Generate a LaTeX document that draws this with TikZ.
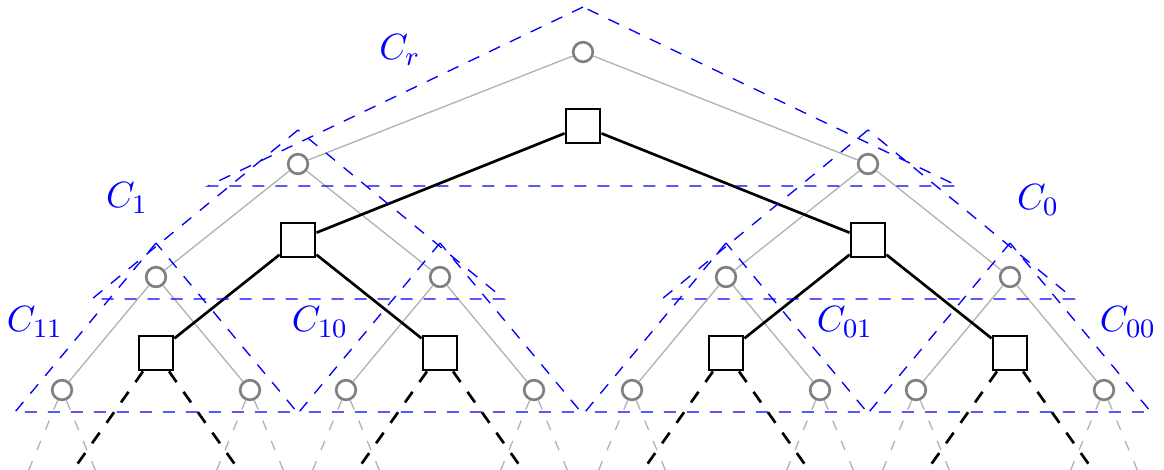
\documentclass[tikz,border=0pt]{standalone}
\begin{document}
\begin{tikzpicture}[x=0.3pt,y=-0.3pt,
  circ/.style={circle,draw=gray,line width=0.8pt,fill=white,minimum size=5.9pt,inner sep=0pt},
  sq/.style={rectangle,draw=black,line width=0.85pt,fill=white,minimum size=10.2pt,inner sep=0pt},
  gedge/.style={draw=black!30,line width=0.4pt},
  bedge/.style={draw=black,line width=0.8pt},
  gdash/.style={draw=black!30,line width=0.4pt,dash pattern=on 3pt off 3.6pt},
  bdash/.style={draw=black,line width=0.8pt,dash pattern=on 3.9pt off 3.6pt},
  clus/.style={draw=blue,line width=0.4pt,dash pattern=on 3.6pt off 3.3pt},
  lab/.style={text=blue,inner sep=0pt,font=\fontsize{11.2}{13}\selectfont}]
\useasboundingbox (0,0) rectangle (1164,469);
\clip (0,0) rectangle (1164,469);

% circle tree
\node[circ] (c) at (583,52) {};
\node[circ] (c1) at (298,164) {};
\node[circ] (c0) at (868,164) {};
\node[circ] (c11) at (156,277) {};
\node[circ] (c10) at (440,277) {};
\node[circ] (c01) at (726,277) {};
\node[circ] (c00) at (1010,277) {};
\node[circ] (c111) at (62,390) {};
\node[circ] (c110) at (250,390) {};
\node[circ] (c101) at (346,390) {};
\node[circ] (c100) at (534,390) {};
\node[circ] (c011) at (632,390) {};
\node[circ] (c010) at (820,390) {};
\node[circ] (c001) at (916,390) {};
\node[circ] (c000) at (1104,390) {};

% square tree
\node[sq] (s) at (583,126) {};
\node[sq] (s1) at (298,240) {};
\node[sq] (s0) at (868,240) {};
\node[sq] (s11) at (156,353) {};
\node[sq] (s10) at (440,353) {};
\node[sq] (s01) at (726,353) {};
\node[sq] (s00) at (1010,353) {};

% gray edges
\draw[gedge] (c) -- (c1);
\draw[gedge] (c) -- (c0);
\draw[gedge] (c1) -- (c11);
\draw[gedge] (c1) -- (c10);
\draw[gedge] (c0) -- (c01);
\draw[gedge] (c0) -- (c00);
\draw[gedge] (c11) -- (c111);
\draw[gedge] (c11) -- (c110);
\draw[gedge] (c10) -- (c101);
\draw[gedge] (c10) -- (c100);
\draw[gedge] (c01) -- (c011);
\draw[gedge] (c01) -- (c010);
\draw[gedge] (c00) -- (c001);
\draw[gedge] (c00) -- (c000);
\foreach \n in {c111,c110,c101,c100,c011,c010,c001,c000}{
  \draw[gdash] (\n) -- ++(-47,113);
  \draw[gdash] (\n) -- ++(47,113);
}

% black edges
\draw[bedge] (s) -- (s1);
\draw[bedge] (s) -- (s0);
\draw[bedge] (s1) -- (s11);
\draw[bedge] (s1) -- (s10);
\draw[bedge] (s0) -- (s01);
\draw[bedge] (s0) -- (s00);
\foreach \n in {s11,s10,s01,s00}{
  \draw[bdash] (\n) -- ++(-80,113);
  \draw[bdash] (\n) -- ++(80,113);
}

% clusters
\draw[clus] (583,7) -- (208,186) -- (958,186) -- cycle;
\draw[clus] (298,130) -- (92,299) -- (504,299) -- cycle;
\draw[clus] (868,130) -- (662,299) -- (1074,299) -- cycle;
\draw[clus] (156,243) -- (15,412) -- (297,412) -- cycle;
\draw[clus] (440,243) -- (299,412) -- (581,412) -- cycle;
\draw[clus] (726,243) -- (585,412) -- (867,412) -- cycle;
\draw[clus] (1010,243) -- (869,412) -- (1151,412) -- cycle;

% labels
\node[lab] (lr) at (400,50) {$C_r$};
\node[lab] (l1) at (127,198) {$C_1$};
\node[lab] (l0) at (1038,200) {$C_0$};
\node[lab] (l11) at (35,322) {$C_{11}$};
\node[lab] (l10) at (320,322) {$C_{10}$};
\node[lab] (l01) at (845,322) {$C_{01}$};
\node[lab] (l00) at (1128,322) {$C_{00}$};
\end{tikzpicture}
\end{document}
